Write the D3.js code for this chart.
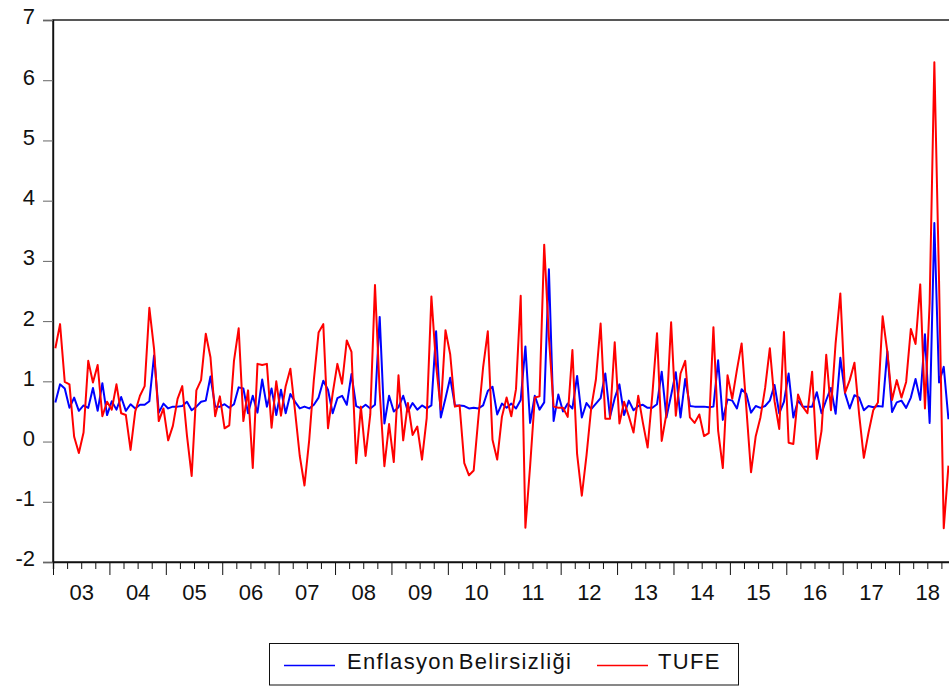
<!DOCTYPE html>
<html>
<head>
<meta charset="utf-8">
<script src="https://cdn.jsdelivr.net/npm/d3@7/dist/d3.min.js"></script>
<style>
  body { margin: 0; background: #fff; }
  svg { display: block; font-family: "Liberation Sans", Arial, sans-serif; }
</style>
</head>
<body>
<script>
// monthly series, first observation = 2003M01
const startYear = 2003;
const endYear = 2019;
const yearLabels = ["03","04","05","06","07","08","09","10","11","12","13","14","15","16","17","18"];
const yTicks = [-2, -1, 0, 1, 2, 3, 4, 5, 6, 7];
const seriesNames = ["Enflasyon Belirsizliği", "TUFE"];

const belirsizlik = [
  0.65,0.95,0.88,0.56,0.73,0.51,0.60,0.56,0.89,0.51,0.97,0.44,
  0.67,0.53,0.74,0.51,0.62,0.55,0.61,0.61,0.67,1.43,0.48,0.63,
  0.55,0.58,0.58,0.59,0.66,0.52,0.58,0.66,0.68,1.08,0.58,0.58,
  0.62,0.56,0.62,0.90,0.88,0.47,0.76,0.48,1.03,0.58,0.88,0.44,
  0.86,0.47,0.79,0.66,0.55,0.58,0.55,0.61,0.73,1.01,0.86,0.47,
  0.72,0.76,0.61,1.12,0.59,0.55,0.61,0.55,0.61,2.07,0.30,0.76,
  0.50,0.57,0.76,0.50,0.64,0.53,0.60,0.55,0.60,1.83,0.40,0.72,
  1.06,0.60,0.60,0.59,0.55,0.56,0.55,0.60,0.84,0.91,0.45,0.63,
  0.56,0.63,0.55,0.69,1.58,0.31,0.76,0.53,0.65,2.86,0.34,0.78,
  0.50,0.63,0.55,1.09,0.40,0.64,0.54,0.63,0.72,1.13,0.41,0.72,
  0.95,0.44,0.68,0.52,0.59,0.61,0.56,0.56,0.62,1.16,0.40,0.77,
  1.15,0.40,1.04,0.59,0.58,0.58,0.58,0.57,0.58,1.35,0.36,0.70,
  0.68,0.55,0.87,0.79,0.48,0.59,0.56,0.59,0.68,0.94,0.47,0.66,
  1.13,0.40,0.68,0.58,0.58,0.58,0.82,0.47,0.69,0.89,0.46,1.39,
  0.80,0.55,0.77,0.73,0.52,0.59,0.57,0.59,0.58,1.50,0.49,0.65,
  0.68,0.56,0.73,1.04,0.69,1.78,0.31,3.63,0.98,1.24,0.37
];

const tufe = [
  1.55,1.95,0.99,0.95,0.08,-0.19,0.15,1.34,0.98,1.27,0.42,0.66,
  0.53,0.95,0.47,0.44,-0.14,0.50,0.76,0.92,2.22,1.54,0.34,0.55,
  0.02,0.26,0.71,0.92,0.10,-0.57,0.85,1.02,1.79,1.40,0.42,0.75,
  0.22,0.27,1.34,1.88,0.34,0.85,-0.44,1.29,1.27,1.29,0.23,1.00,
  0.43,0.92,1.21,0.50,-0.24,-0.73,0.02,1.03,1.81,1.95,0.22,0.80,
  1.29,0.96,1.68,1.49,-0.36,0.58,-0.24,0.45,2.60,0.83,-0.41,0.29,
  -0.34,1.10,0.02,0.64,0.11,0.25,-0.30,0.39,2.41,1.27,0.53,1.85,
  1.45,0.58,0.60,-0.36,-0.56,-0.48,0.40,1.23,1.83,0.03,-0.30,0.41,
  0.73,0.42,0.87,2.42,-1.43,-0.41,0.73,0.75,3.27,1.73,0.58,0.56,
  0.56,0.41,1.52,-0.21,-0.90,-0.23,0.56,1.03,1.96,0.38,0.38,1.65,
  0.30,0.66,0.42,0.15,0.76,0.31,-0.10,0.77,1.80,0.01,0.46,1.98,
  0.43,1.13,1.34,0.40,0.31,0.45,0.09,0.14,1.90,0.18,-0.44,1.10,
  0.71,1.19,1.63,0.56,-0.51,0.09,0.40,0.89,1.55,0.67,0.21,1.82,
  -0.02,-0.04,0.78,0.58,0.47,1.16,-0.29,0.18,1.44,0.52,1.64,2.46,
  0.81,1.02,1.31,0.45,-0.27,0.15,0.52,0.65,2.08,1.49,0.69,1.02,
  0.73,0.99,1.87,1.62,2.61,0.55,2.30,6.30,2.67,-1.44,-0.40
];

const width = 949, height = 689;
const plot = {left: 53, top: 20, right: 955.5, bottom: 562};

const svg = d3.select("body").append("svg")
  .attr("width", width)
  .attr("height", height);

// fractional year scale, each observation sits in the middle of its month
const x = d3.scaleLinear().domain([startYear, endYear]).range([plot.left, plot.right]);
const y = d3.scaleLinear().domain([-2, 7]).range([plot.bottom, plot.top]);
const t = i => startYear + (i + 0.5) / 12;

// frame
svg.append("rect")
  .attr("x", plot.left).attr("y", plot.top)
  .attr("width", plot.right - plot.left).attr("height", plot.bottom - plot.top)
  .attr("fill", "none").attr("stroke", "#111").attr("stroke-width", 1.4);

// y axis (plain hyphen for negatives, like the original)
const yAxis = svg.append("g")
  .attr("transform", `translate(${plot.left},0)`)
  .call(d3.axisLeft(y).tickValues(yTicks).tickSize(10).tickPadding(8).tickFormat(d => String(d)));
yAxis.select(".domain").attr("stroke", "#111").attr("stroke-width", 1.4);
yAxis.selectAll(".tick line").attr("stroke", "#666");
yAxis.selectAll(".tick text")
  .attr("font-size", 22).attr("fill", "#111").attr("dy", "0.18em");

// x axis: quarterly ticks, longer at year start
const quarters = d3.range(startYear, endYear, 0.25);
const xAxis = svg.append("g")
  .attr("transform", `translate(0,${plot.bottom})`)
  .call(d3.axisBottom(x).tickValues(quarters).tickSize(7).tickFormat(""));
xAxis.select(".domain").attr("stroke", "#111").attr("stroke-width", 1.4);
xAxis.selectAll(".tick line")
  .attr("stroke", "#111")
  .attr("y2", d => Number.isInteger(d) ? 13 : 7);

const labelAxis = svg.append("g")
  .attr("transform", `translate(0,${plot.bottom})`)
  .call(d3.axisBottom(x)
    .tickValues(yearLabels.map((_, i) => startYear + i + 0.5))
    .tickSize(0).tickPadding(22)
    .tickFormat((d, i) => yearLabels[i]));
labelAxis.select(".domain").remove();
labelAxis.selectAll(".tick text").attr("font-size", 22).attr("fill", "#111");

// lines
const clip = svg.append("clipPath").attr("id", "clip")
  .append("rect").attr("x", plot.left).attr("y", plot.top)
  .attr("width", plot.right - plot.left).attr("height", plot.bottom - plot.top);

const line = d3.line().x((d, i) => x(t(i))).y(d => y(d));

svg.append("path")
  .datum(belirsizlik)
  .attr("clip-path", "url(#clip)")
  .attr("fill", "none").attr("stroke", "#0000ff").attr("stroke-width", 2)
  .attr("stroke-linejoin", "round")
  .attr("d", line);

svg.append("path")
  .datum(tufe)
  .attr("clip-path", "url(#clip)")
  .attr("fill", "none").attr("stroke", "#ff0000").attr("stroke-width", 2)
  .attr("stroke-linejoin", "round")
  .attr("d", line);

// legend
const legend = svg.append("g");
legend.append("rect")
  .attr("x", 269.5).attr("y", 643.5).attr("width", 469).attr("height", 41.5)
  .attr("fill", "#fff").attr("stroke", "#111").attr("stroke-width", 1);

const legendItems = [
  {name: seriesNames[0], color: "#0000ff", x0: 284, tx: 347},
  {name: seriesNames[1], color: "#ff0000", x0: 597, tx: 658}
];
legendItems.forEach(d => {
  legend.append("line")
    .attr("x1", d.x0).attr("x2", d.x0 + 51)
    .attr("y1", 665.5).attr("y2", 665.5)
    .attr("stroke", d.color).attr("stroke-width", 1.5);
  legend.append("text")
    .attr("x", d.tx).attr("y", 669)
    .attr("font-size", 22).attr("letter-spacing", 1.3).attr("word-spacing", -4)
    .attr("fill", "#111")
    .text(d.name);
});
</script>
</body>
</html>
